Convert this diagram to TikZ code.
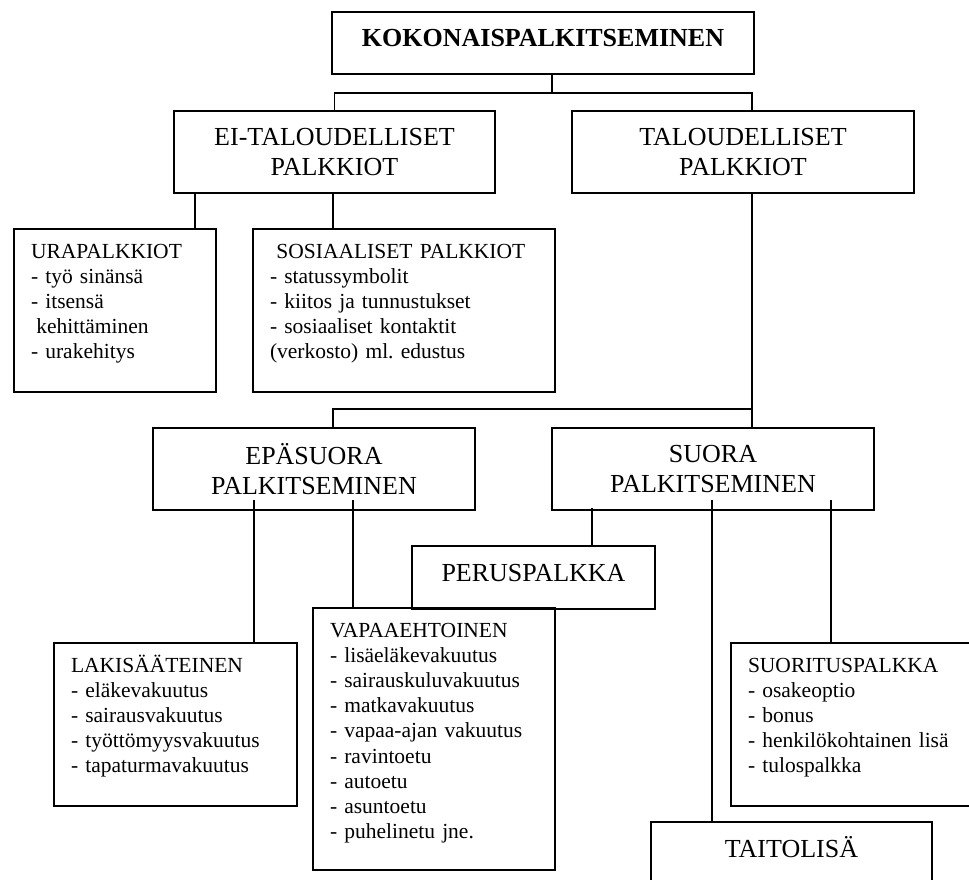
\documentclass[tikz,border=0pt]{standalone}
\usepackage{fontspec}
\setmainfont{Liberation Serif}
\usepackage{tikz}
\newcommand{\boxfont}{\fontsize{26}{30}\selectfont}
\newcommand{\itemfont}{\fontsize{21.5}{25.2}\selectfont\frenchspacing}

\begin{document}
\begin{tikzpicture}[x=1pt, y=-1pt,
    box/.style={draw, line width=1.2pt, inner sep=0pt, outer sep=0pt, align=center, font=\boxfont},
    single/.style={box, text height=17pt, text depth=10pt},
    list/.style={draw, line width=1.2pt, anchor=north west, align=left, inner xsep=17pt, inner ysep=0pt, outer sep=0pt, text height=29pt, font=\itemfont},
    link/.style={line width=1.2pt}
]
    \useasboundingbox (0,0) rectangle (969,879);

    % top levels
    \node[single, font=\boxfont\bfseries, minimum width=422pt, minimum height=62pt] (koko) at (543,43) {KOKONAISPALKITSEMINEN};
    \node[box, minimum width=321pt, minimum height=82pt] (ei) at (334.5,152) {EI-TALOUDELLISET\\PALKKIOT};
    \node[box, minimum width=342pt, minimum height=82pt] (tal) at (743,152) {TALOUDELLISET\\PALKKIOT};

    % non-financial rewards
    \node[list, text width=168pt, text depth=134pt] (ura) at (14,229)
        {URAPALKKIOT\\- työ sinänsä\\- itsensä\\\hspace*{0.25em}kehittäminen\\- urakehitys};
    \node[list, text width=268pt, text depth=134pt] (sos) at (253,229)
        {\hspace*{0.3em}SOSIAALISET PALKKIOT\\- statussymbolit\\- kiitos ja tunnustukset\\- sosiaaliset kontaktit\\(verkosto) ml. edustus};

    % financial rewards
    \node[box, minimum width=322pt, minimum height=82pt] (epa) at (314,469) {EPÄSUORA\\PALKITSEMINEN};
    \node[box, minimum width=322pt, minimum height=82pt] (suo) at (713,469) {SUORA\\PALKITSEMINEN};
    \node[single, minimum width=243pt, minimum height=63pt] (perus) at (533.5,577.5) {PERUSPALKKA};
    \node[list, text width=209pt, text depth=134pt] (laki) at (54,643)
        {LAKISÄÄTEINEN\\- eläkevakuutus\\- sairausvakuutus\\- työttömyysvakuutus\\- tapaturmavakuutus};
    \node[list, text width=208pt, text depth=233pt] (vapaa) at (313,608)
        {VAPAAEHTOINEN\\- lisäeläkevakuutus\\- sairauskuluvakuutus\\- matkavakuutus\\- vapaa-ajan vakuutus\\- ravintoetu\\- autoetu\\- asuntoetu\\- puhelinetu jne.};
    \node[list, text width=216pt, text depth=134pt] (suor) at (731,643)
        {SUORITUSPALKKA\\- osakeoptio\\- bonus\\- henkilökohtainen lisä\\- tulospalkka};
    \node[single, minimum width=281pt, minimum height=63pt] (taito) at (791.5,853.5) {TAITOLISÄ};

    % branch points and drop lines
    \coordinate (split-top) at (552,93);
    \coordinate (split-mid) at (752,409);
    \coordinate (to-ura) at (195,0);
    \coordinate (to-sos) at (333,0);
    \coordinate (to-laki) at (254,0);
    \coordinate (to-vapaa) at (353,0);
    \coordinate (to-perus) at (592,0);
    \coordinate (to-taito) at (712,0);
    \coordinate (to-suor) at (831,0);

    \draw[link] (koko.south -| split-top) -- (split-top);
    \draw[link] (ei.north) |- (split-top) -| ([xshift=9pt]tal.north);
    \draw[link] ([xshift=9pt]tal.south) -- (suo.north -| split-mid);
    \draw[link] (split-mid) -| ([xshift=19pt]epa.north);

    \foreach \src/\dst/\dy in {ei/ura/0, ei/sos/0, epa/laki/10, epa/vapaa/10, suo/perus/2, suo/taito/10, suo/suor/10}
        \draw[link] (\src.south -| to-\dst) ++(0,-\dy) -- (\dst.north -| to-\dst);
\end{tikzpicture}
\end{document}
